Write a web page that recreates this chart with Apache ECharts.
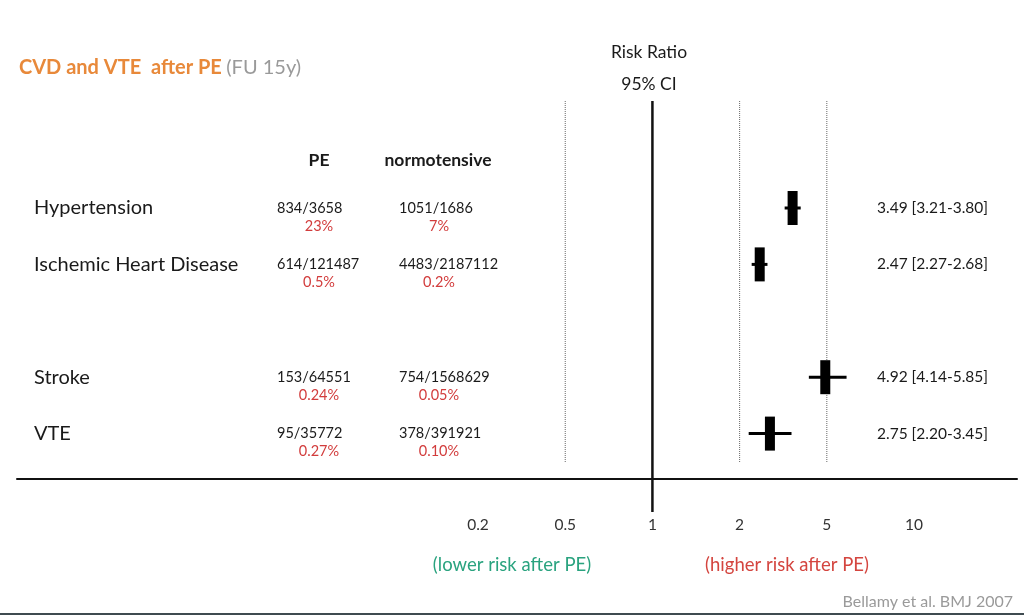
<!DOCTYPE html>
<html>
<head>
<meta charset="utf-8">
<title>CVD and VTE after PE</title>
<script src="https://cdn.jsdelivr.net/npm/echarts@6/dist/echarts.min.js"></script>
<style>
    html, body { margin: 0; padding: 0; background: #ffffff; }
    #chart { width: 1024px; height: 615px; }
    #frame-edge { position: absolute; left: 0; bottom: 0; width: 1024px; height: 2px; background: #3f4b50; }
</style>
</head>
<body>
<div id="chart"></div>
<div id="frame-edge"></div>
<script>
// Rows of the forest plot (top to bottom)
const rows = ['Hypertension', 'Ischemic Heart Disease', 'Stroke', 'VTE'];
// y slots, with a blank slot between the two groups
const yCategories = ['Hypertension', 'Ischemic Heart Disease', '', 'Stroke', 'VTE'];

const peCounts = ['834/3658', '614/121487', '153/64551', '95/35772'];
const pePercent = ['23%', '0.5%', '0.24%', '0.27%'];
const normCounts = ['1051/1686', '4483/2187112', '754/1568629', '378/391921'];
const normPercent = ['7%', '0.2%', '0.05%', '0.10%'];

const riskRatio = [3.49, 2.47, 4.92, 2.75];
const ciLow = [3.21, 2.27, 4.14, 2.20];
const ciHigh = [3.80, 2.68, 5.85, 3.45];

// Axis ticks, drawn equally spaced
const tickValues = [0.2, 0.5, 1, 2, 5, 10];
const refLines = [0.5, 1, 2, 5];

const FONT = 'Lato, "Open Sans", sans-serif';
const TEXT = '#1a1a1a';
const RED = '#d23c3c';

/**
 * Map a ratio to the axis: ticks sit one unit apart, log within each gap
 * @param {number} v - ratio
 * @returns {number} axis position
 */
function toPos(v) {
    for (let i = 0; i < tickValues.length - 1; i++) {
        const a = tickValues[i];
        const b = tickValues[i + 1];
        if (v <= b || i === tickValues.length - 2) {
            return i + Math.log(v / a) / Math.log(b / a);
        }
    }
    return 0;
}

function fmt(n) {
    return n.toFixed(2);
}

const ciLabels = rows.map((r, i) => `${fmt(riskRatio[i])} [${fmt(ciLow[i])}-${fmt(ciHigh[i])}]`);

const chart = echarts.init(document.getElementById('chart'), null, { renderer: 'canvas' });

const option = {
    backgroundColor: '#ffffff',
    animation: false,
    textStyle: { fontFamily: FONT },
    title: {
        left: 14,
        top: 53,
        text: '{a|CVD and VTE  after PE} {b|(FU 15y)}',
        textStyle: {
            rich: {
                a: { fontFamily: FONT, fontSize: 20, fontWeight: 'bold', color: '#e8893a' },
                b: { fontFamily: FONT, fontSize: 20, fontWeight: 'normal', color: '#9a9a9a' }
            }
        }
    },
    grid: {
        left: 17,
        right: 7,
        top: 208,
        bottom: 181.4
    },
    xAxis: {
        type: 'value',
        min: -5.287,
        max: 6.181,
        offset: 45.4,
        axisLine: { show: true, lineStyle: { color: '#111', width: 2 } },
        axisTick: { show: false },
        splitLine: { show: false },
        axisLabel: {
            customValues: tickValues.map((v, i) => i),
            formatter: (val) => String(tickValues[Math.round(val)]),
            margin: 38,
            fontFamily: FONT,
            fontSize: 15.5,
            color: '#333'
        }
    },
    yAxis: {
        type: 'category',
        data: yCategories,
        inverse: true,
        boundaryGap: false,
        axisLine: { show: false },
        axisTick: { show: false },
        splitLine: { show: false },
        axisLabel: {
            inside: true,
            margin: 17,
            align: 'left',
            fontFamily: FONT,
            fontSize: 20,
            color: TEXT
        }
    },
    graphic: [
        { type: 'text', x: 649, y: 52, style: { text: 'Risk Ratio', fill: TEXT, font: `17.5px ${FONT}`, align: 'center', verticalAlign: 'middle' } },
        { type: 'text', x: 649, y: 84, style: { text: '95% CI', fill: TEXT, font: `17.5px ${FONT}`, align: 'center', verticalAlign: 'middle' } },
        { type: 'text', x: 319, y: 160, style: { text: 'PE', fill: TEXT, font: `bold 17.5px ${FONT}`, align: 'center', verticalAlign: 'middle' } },
        { type: 'text', x: 438, y: 160, style: { text: 'normotensive', fill: TEXT, font: `bold 17.5px ${FONT}`, align: 'center', verticalAlign: 'middle' } },
        { type: 'text', x: 512, y: 565, style: { text: '(lower risk after PE)', fill: '#2aa37f', font: `18.5px ${FONT}`, align: 'center', verticalAlign: 'middle' } },
        { type: 'text', x: 787, y: 565, style: { text: '(higher risk after PE)', fill: '#d4453f', font: `18.5px ${FONT}`, align: 'center', verticalAlign: 'middle' } },
        { type: 'text', x: 1013, y: 602, style: { text: 'Bellamy et al. BMJ 2007', fill: '#9a9a9a', font: `16px ${FONT}`, align: 'right', verticalAlign: 'middle' } }
    ],
    series: [
        {
            // Reference lines: solid at 1, dotted at 0.5, 2 and 5
            name: 'reference',
            type: 'custom',
            silent: true,
            data: refLines.map(v => [toPos(v), yCategories[0], v]),
            encode: { x: 0, y: 1 },
            renderItem(params, api) {
                const x = api.coord([api.value(0), 0])[0];
                const top = params.coordSys.y;
                const bottom = top + params.coordSys.height;
                const solid = api.value(2) === 1;
                return {
                    type: 'line',
                    shape: { x1: x, y1: top - 107, x2: x, y2: solid ? bottom + 78.4 : bottom + 29.4 },
                    style: solid
                        ? { stroke: '#111', lineWidth: 2.5 }
                        : { stroke: '#666', lineWidth: 1, lineDash: [1, 1] }
                };
            }
        },
        {
            // Count / percentage columns and CI text
            name: 'table',
            type: 'custom',
            silent: true,
            data: rows.map(r => [0, r]),
            encode: { x: 0, y: 1 },
            renderItem(params, api) {
                const i = params.dataIndex;
                const y = api.coord([0, api.value(1)])[1];
                const txt = (x, dy, text, color, align, size) => ({
                    type: 'text',
                    x: x,
                    y: y + dy,
                    style: { text: text, fill: color, font: `${size}px ${FONT}`, align: align, verticalAlign: 'middle' }
                });
                return {
                    type: 'group',
                    children: [
                        txt(277, 0, peCounts[i], TEXT, 'left', 14.5),
                        txt(319, 18, pePercent[i], RED, 'center', 14.5),
                        txt(399, 0, normCounts[i], TEXT, 'left', 14.5),
                        txt(439, 18, normPercent[i], RED, 'center', 14.5),
                        txt(877, 0, ciLabels[i], TEXT, 'left', 15.5)
                    ]
                };
            }
        },
        {
            // Risk ratio box with CI whisker
            name: 'risk ratio',
            type: 'custom',
            data: rows.map((r, i) => [toPos(riskRatio[i]), r, toPos(ciLow[i]), toPos(ciHigh[i])]),
            encode: { x: 0, y: 1 },
            renderItem(params, api) {
                const c = api.coord([api.value(0), api.value(1)]);
                const lo = api.coord([api.value(2), api.value(1)])[0];
                const hi = api.coord([api.value(3), api.value(1)])[0];
                return {
                    type: 'group',
                    children: [
                        {
                            type: 'line',
                            shape: { x1: lo, y1: c[1], x2: hi, y2: c[1] },
                            style: { stroke: '#000', lineWidth: 3 }
                        },
                        {
                            type: 'rect',
                            shape: { x: c[0] - 5, y: c[1] - 17, width: 10, height: 34 },
                            style: { fill: '#000' }
                        }
                    ]
                };
            }
        }
    ]
};

chart.setOption(option);

window.addEventListener('resize', () => {
    chart.resize();
});
</script>
</body>
</html>
